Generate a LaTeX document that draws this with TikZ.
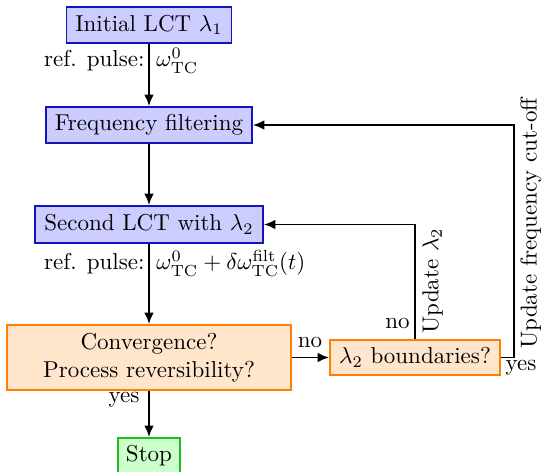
\documentclass[tikz,border=0pt]{standalone}
\usetikzlibrary{arrows.meta}
\definecolor{bfill}{RGB}{204,204,255}
\definecolor{bdraw}{RGB}{20,20,190}
\definecolor{ofill}{RGB}{255,229,204}
\definecolor{odraw}{RGB}{255,128,0}
\definecolor{gfill}{RGB}{204,255,204}
\definecolor{gdraw}{RGB}{30,190,30}
\tikzset{
  box/.style={draw, line width=0.8pt, inner sep=1pt, align=center},
  bluebox/.style={box, fill=bfill, draw=bdraw},
  orangebox/.style={box, fill=ofill, draw=odraw},
  greenbox/.style={box, fill=gfill, draw=gdraw},
  conn/.style={line width=0.8pt, -{Latex[length=5pt,width=4.2pt]}},
  lbl/.style={inner sep=0pt},
}
\begin{document}
\begin{tikzpicture}[x=0.43478pt, y=-0.43478pt]
\useasboundingbox (0,0) rectangle (543,472);
\node[bluebox, minimum width=71.7pt, minimum height=15.7pt] (init) at (149,25) {Initial LCT $\lambda_1$};
\node[bluebox, minimum width=89.6pt, minimum height=15.7pt] (freq) at (149,125) {Frequency filtering};
\node[bluebox, minimum width=99.1pt, minimum height=16.1pt] (second) at (149,224.5) {Second LCT with $\lambda_2$};
\node[orangebox, minimum width=123.5pt, minimum height=28.3pt] (conv) at (149,357.5) {Convergence?\\Process reversibility?};
\node[orangebox, minimum width=73.9pt, minimum height=15.2pt] (bound) at (415,357.5) {$\lambda_2$ boundaries?};
\node[greenbox, minimum width=27pt, minimum height=15.7pt] (stop) at (149,456) {Stop};

\coordinate (corner) at (514,357.5);

\draw[conn] (init) -- (freq);
\draw[conn] (freq) -- (second);
\draw[conn] (second) -- (conv);
\draw[conn] (conv) -- (stop);
\draw[conn] (conv) -- (bound);
\draw[conn] (bound.north) |- (second.east);
\draw[conn] (bound.east) -- (corner) |- (freq.east);

\node[lbl, anchor=base east] (rp1) at (145,67) {ref. pulse:};
\node[lbl, anchor=base west] (w1) at (156,67) {$\omega^0_{\mathrm{TC}}$};
\node[lbl, anchor=base east] (rp2) at (145,270) {ref. pulse:};
\node[lbl, anchor=base west] (w2) at (156,270) {$\omega^0_{\mathrm{TC}} + \delta\omega^{\mathrm{filt}}_{\mathrm{TC}}(t)$};
\node[lbl, anchor=base] (no1) at (310,348) {no};
\node[lbl, anchor=base east] (no2) at (410,329) {no};
\node[lbl, anchor=base] (yes1) at (124,403) {yes};
\node[lbl, anchor=base] (yes2) at (521,371) {yes};
\node[lbl, rotate=90, anchor=north west] (upd1) at (422,334) {Update $\lambda_2$};
\node[lbl, rotate=90, anchor=north west] (upd2) at (520,349) {Update frequency cut-off};
\end{tikzpicture}
\end{document}
